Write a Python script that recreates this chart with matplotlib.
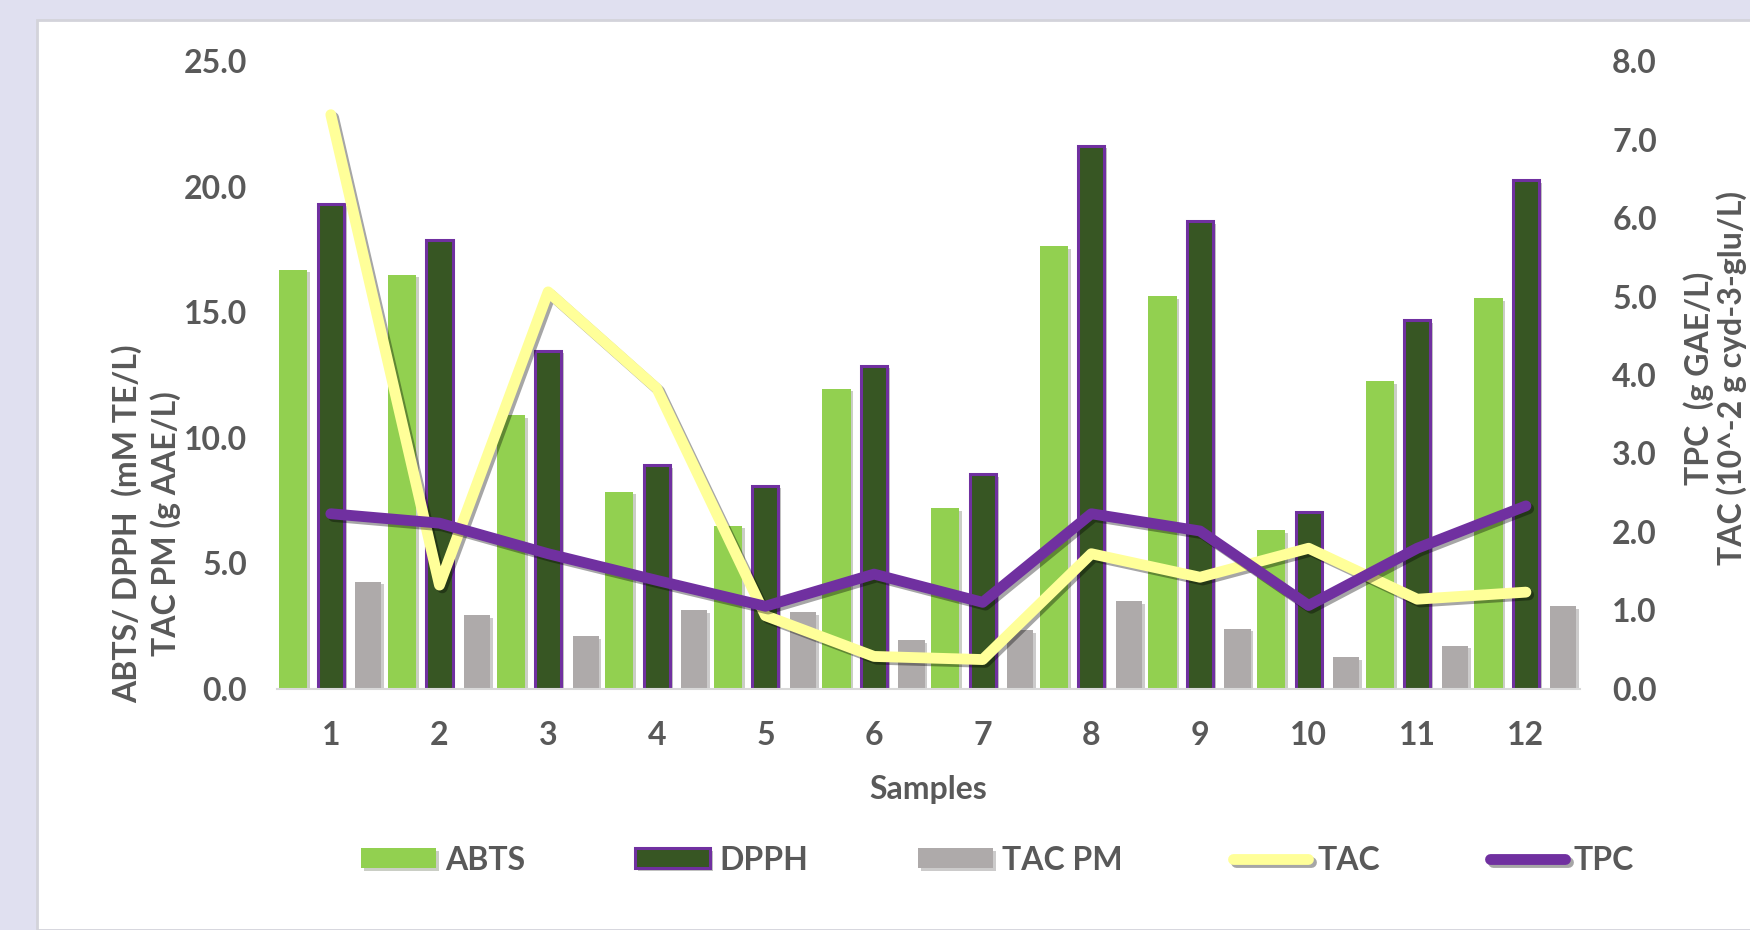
import numpy as np
import matplotlib
matplotlib.use("Agg")
import matplotlib.pyplot as plt
import matplotlib.patheffects as pe
from matplotlib.patches import Rectangle

plt.rcParams['font.family'] = ['Lato', 'DejaVu Sans']
plt.rcParams['font.weight'] = 'bold'

# data
samples = [1, 2, 3, 4, 5, 6, 7, 8, 9, 10, 11, 12]
abts = [16.7, 16.5, 10.9, 7.85, 6.5, 11.96, 7.19, 17.64, 15.63, 6.33, 12.26, 15.56]
dpph = [19.33, 17.9, 13.47, 8.92, 8.09, 12.87, 8.56, 21.64, 18.64, 7.03, 14.69, 20.28]
tac_pm = [4.26, 2.93, 2.09, 3.13, 3.05, 1.93, 2.33, 3.49, 2.39, 1.25, 1.71, 3.30]
tac = [7.32, 1.32, 5.06, 3.83, 0.93, 0.41, 0.37, 1.72, 1.42, 1.79, 1.14, 1.23]
tpc = [2.23, 2.11, 1.72, 1.38, 1.05, 1.46, 1.10, 2.23, 2.01, 1.06, 1.79, 2.33]

left_ticks = [0, 5, 10, 15, 20, 25]
right_ticks = [0, 1, 2, 3, 4, 5, 6, 7, 8]

txt = '#595959'
fs = 23

fig = plt.figure(figsize=(17.5, 9.3), dpi=100)
fig.patch.set_facecolor('#E0E0F0')
fig.patches.append(Rectangle((37 / 1750, 0), 1, 1 - 20 / 930, transform=fig.transFigure,
                             facecolor='white', edgecolor='#D3D3DA', linewidth=2, zorder=-5))

ax = fig.add_axes([0.158, 0.2596, 0.745, 0.6744])
ax.set_facecolor('none')
x = np.array(samples)
w = 0.26
off = 0.345
shadow = [pe.SimplePatchShadow(offset=(2, -2), alpha=0.25), pe.Normal()]
b1 = ax.bar(x - off, abts, w, color='#92D050', path_effects=shadow, label='ABTS')
b2 = ax.bar(x, dpph, w - 0.02, color='#375623', edgecolor='#7030A0', linewidth=2.2,
            path_effects=shadow, label='DPPH')
b3 = ax.bar(x + off, tac_pm, w - 0.02, color='#AEAAAA', path_effects=shadow, label='TAC PM')

ax.set_xlim(0.5, 12.5)
ax.set_ylim(0, 25)
ax.set_xticks(x)
ax.set_xticklabels([str(s) for s in samples])
ax.set_yticks(left_ticks)
ax.set_yticklabels(['%.1f' % v for v in left_ticks])
ax.tick_params(axis='both', length=0, labelsize=fs, labelcolor=txt)
ax.tick_params(axis='x', pad=23)
ax.tick_params(axis='y', pad=21)
for s in ['top', 'left', 'right']:
    ax.spines[s].set_visible(False)
ax.spines['bottom'].set_color('#D9D9D9')
ax.spines['bottom'].set_linewidth(1.5)

ax2 = ax.twinx()
lshadow = [pe.SimpleLineShadow(offset=(2, -2), alpha=0.35), pe.Normal()]
l1, = ax2.plot(x, tac, color='#FFFF99', linewidth=7.8, solid_joinstyle='round',
               solid_capstyle='round', path_effects=lshadow, label='TAC')
l2, = ax2.plot(x, tpc, color='#7030A0', linewidth=7.8, solid_joinstyle='round',
               solid_capstyle='round', path_effects=lshadow, label='TPC')
ax2.set_ylim(0, 8)
ax2.set_yticks(right_ticks)
ax2.set_yticklabels(['%.1f' % v for v in right_ticks])
ax2.tick_params(axis='y', length=0, labelsize=fs, labelcolor=txt, pad=23)
for s in ['top', 'left', 'right', 'bottom']:
    ax2.spines[s].set_visible(False)

fig.text(928 / 1750, 1 - 789 / 930, 'Samples', ha='center', va='center', fontsize=fs, color=txt)
fig.text(146 / 1750, 1 - 524 / 930, 'ABTS/ DPPH  (mM TE/L)\nTAC PM (g AAE/L)', rotation=90,
         ha='center', va='center', multialignment='center', fontsize=fs, color=txt,
         linespacing=1.3)
fig.text(1715 / 1750, 1 - 378 / 930, 'TPC  (g GAE/L)\nTAC (10^-2 g cyd-3-glu/L)', rotation=90,
         ha='center', va='center', multialignment='center', fontsize=fs, color=txt,
         linespacing=1.1)

leg = fig.legend([b1, b2, b3, l1, l2], ['ABTS', 'DPPH', 'TAC PM', 'TAC', 'TPC'],
                 loc='center', bbox_to_anchor=(0.57, 1 - 860 / 930), ncol=5, frameon=False,
                 fontsize=fs, handlelength=2.35, handleheight=0.58, handletextpad=0.28,
                 columnspacing=3.45)
for t in leg.get_texts():
    t.set_color(txt)

fig.savefig('out.png', dpi=100, facecolor=fig.get_facecolor())
